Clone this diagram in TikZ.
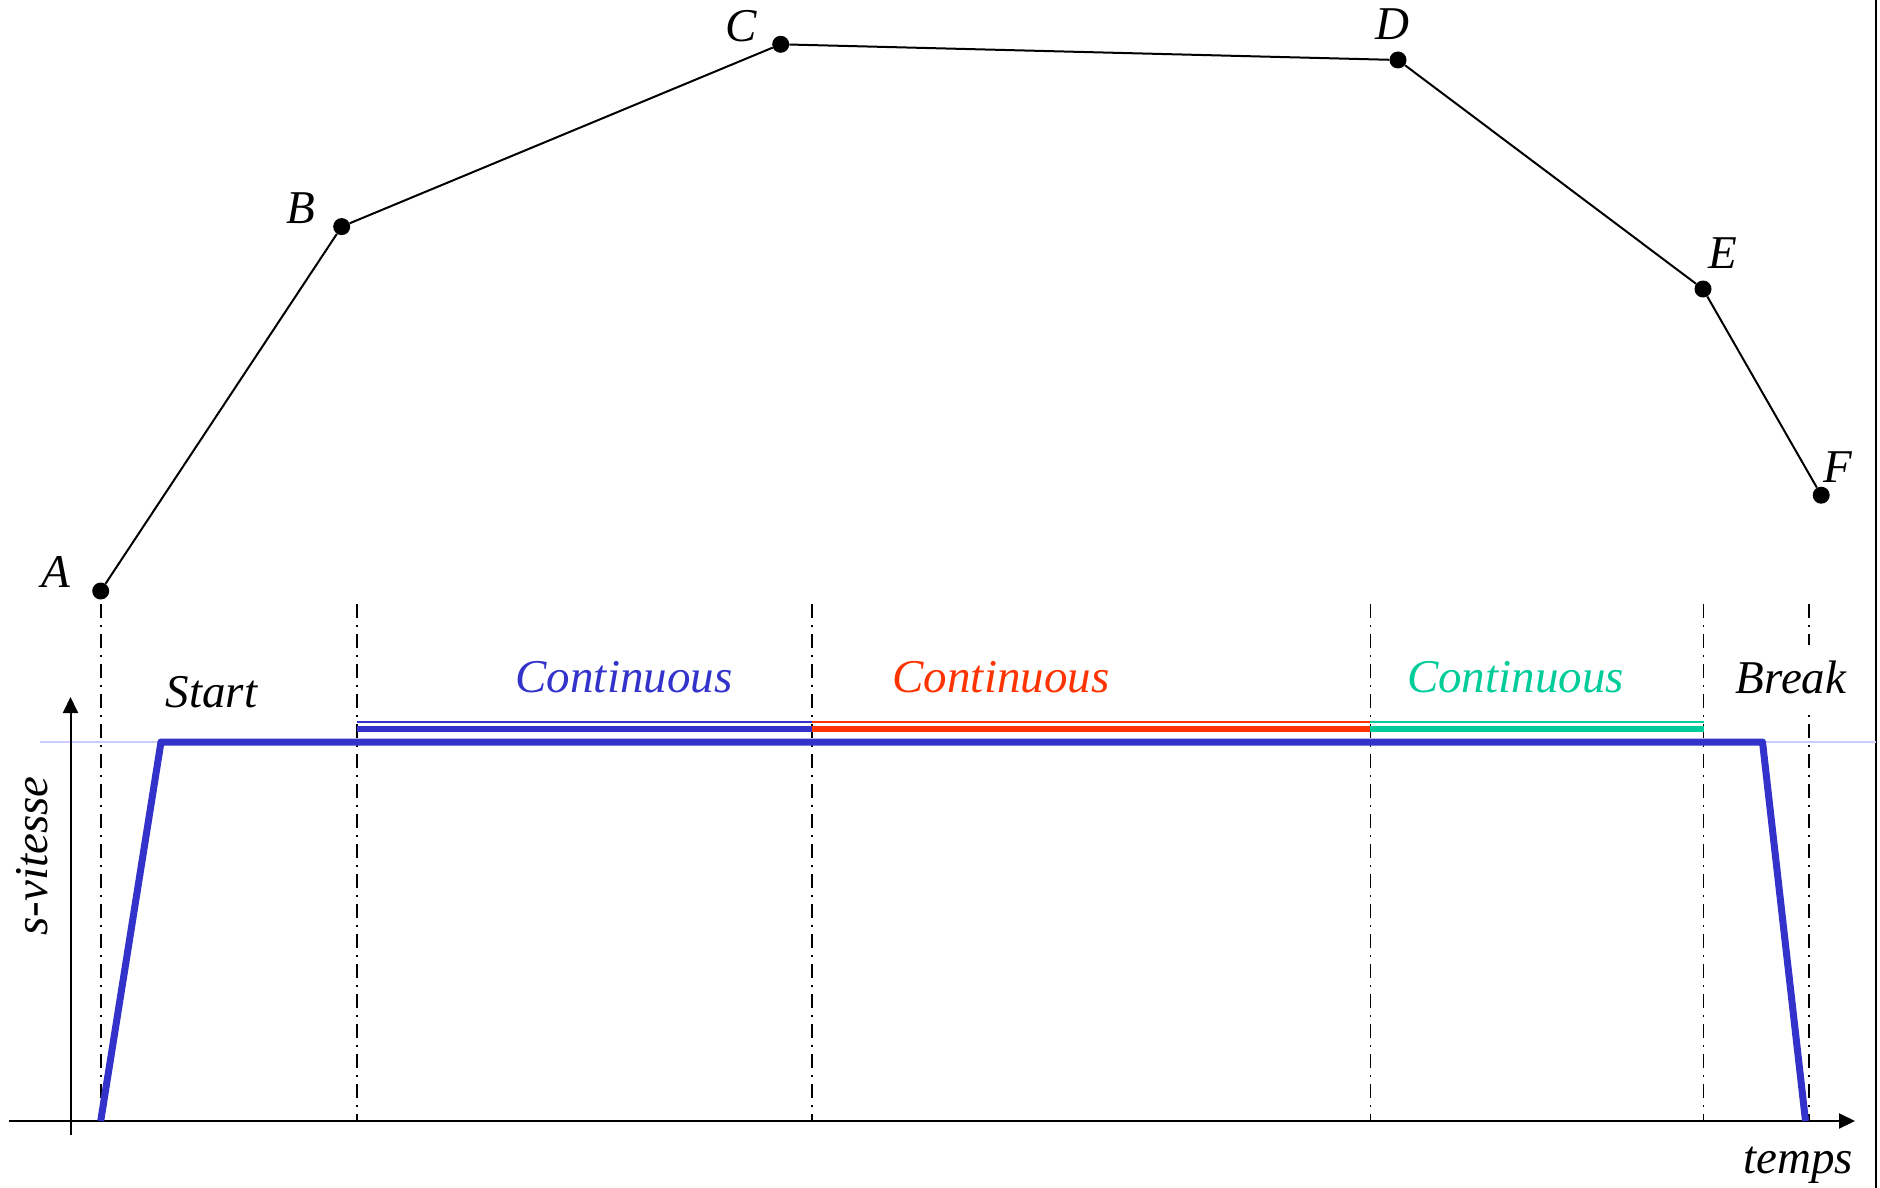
\documentclass[tikz,border=0pt]{standalone}
\usepackage{fontspec}
\setmainfont{Liberation Serif}
\usetikzlibrary{arrows.meta}
\definecolor{speedblue}{HTML}{3333CC}
\definecolor{segred}{HTML}{FF3300}
\definecolor{seggreen}{HTML}{00CC99}
\definecolor{paleblue}{HTML}{CCCCFF}
\tikzset{
  waypoint/.style={circle, fill=black, inner sep=0pt, minimum size=17pt},
  lbl/.style={font=\fontsize{47}{56}\selectfont\itshape, inner sep=0pt, anchor=base},
  phase/.style={line width=1.8pt, dash pattern=on 14pt off 7pt on 2pt off 7pt},
  axis/.style={line width=2pt, -{Triangle[length=16pt,width=15pt]}},
  segthin/.style={line width=2pt},
  segthick/.style={line width=6.5pt},
}
\begin{document}
\begin{tikzpicture}[x=1pt,y=-1pt]
\useasboundingbox (0,0) rectangle (1880,1188);

% frame edge on the right
\draw[line width=2.5pt] (1876,0) -- (1876,1188);

% path waypoints
\node[waypoint] (A) at (100.7,591) {};
\node[waypoint] (B) at (341.7,226.6) {};
\node[waypoint] (C) at (780.7,44.3) {};
\node[waypoint] (D) at (1398,60) {};
\node[waypoint] (E) at (1703,289) {};
\node[waypoint] (F) at (1821.2,495.2) {};
\draw[line width=2pt] (A) -- (B) -- (C) -- (D) -- (E) -- (F);

\node[lbl] (lA) at (56,587) {A};
\node[lbl] (lB) at (301,223) {B};
\node[lbl] (lC) at (741,42) {C};
\node[lbl] (lD) at (1392,40) {D};
\node[lbl] (lE) at (1723,268) {E};
\node[lbl] (lF) at (1838,482) {F};

% phase boundaries
\foreach \x/\n in {100.7/p0, 357.3/p1, 811.7/p2, 1370.4/p3, 1703.5/p4, 1809.3/p5} {
  \coordinate (\n t) at (\x,604);
  \coordinate (\n b) at (\x,1121);
  \draw[phase] (\n t) -- (\n b);
}

% nominal speed level
\coordinate (lvL) at (40,742);
\coordinate (lvR) at (1876,742);
\draw[paleblue, line width=2pt] (lvL) -- (lvR);

% axes
\coordinate (xs) at (9,1121);
\coordinate (xe) at (1855,1121);
\coordinate (ys) at (70.5,1135);
\coordinate (ye) at (70.5,697);
\draw[axis] (xs) -- (xe);
\draw[axis] (ys) -- (ye);

% continuous segments
\coordinate (s1) at (357.3,0);
\coordinate (s2) at (811.7,0);
\coordinate (s3) at (1370.4,0);
\coordinate (s4) at (1703.5,0);
\draw[speedblue, segthin] (s1 |- 0,721.7) -- (s2 |- 0,721.7);
\draw[speedblue, segthick] (s1 |- 0,729) -- (s2 |- 0,729);
\draw[segred, segthin] (s2 |- 0,721.7) -- (s3 |- 0,721.7);
\draw[segred, segthick] (s2 |- 0,729) -- (s3 |- 0,729);
\draw[seggreen, segthin] (s3 |- 0,721.7) -- (s4 |- 0,721.7);
\draw[seggreen, segthick] (s3 |- 0,729) -- (s4 |- 0,729);

% speed profile
\coordinate (v0) at (100.7,1121);
\coordinate (v1) at (161,742);
\coordinate (v2) at (1762.5,742);
\coordinate (v3) at (1805.5,1121);
\draw[speedblue, line width=7pt, line join=round] (v0) -- (v1) -- (v2) -- (v3);

% phase names
\node[lbl] (tStart) at (211.5,707) {Start};
\node[lbl, text=speedblue] (tC1) at (624,692) {Continuous};
\node[lbl, text=segred] (tC2) at (1001,692) {Continuous};
\node[lbl, text=seggreen] (tC3) at (1515.5,692) {Continuous};
\node[lbl, fill=white, inner xsep=12pt, inner ysep=15pt] (tBreak) at (1791,693) {Break};

% axis titles
\node[lbl, anchor=base east] (tTime) at (1853,1173) {temps};
\node[lbl, rotate=90] (tSpeed) at (47,856) {s-vitesse};
\end{tikzpicture}
\end{document}
